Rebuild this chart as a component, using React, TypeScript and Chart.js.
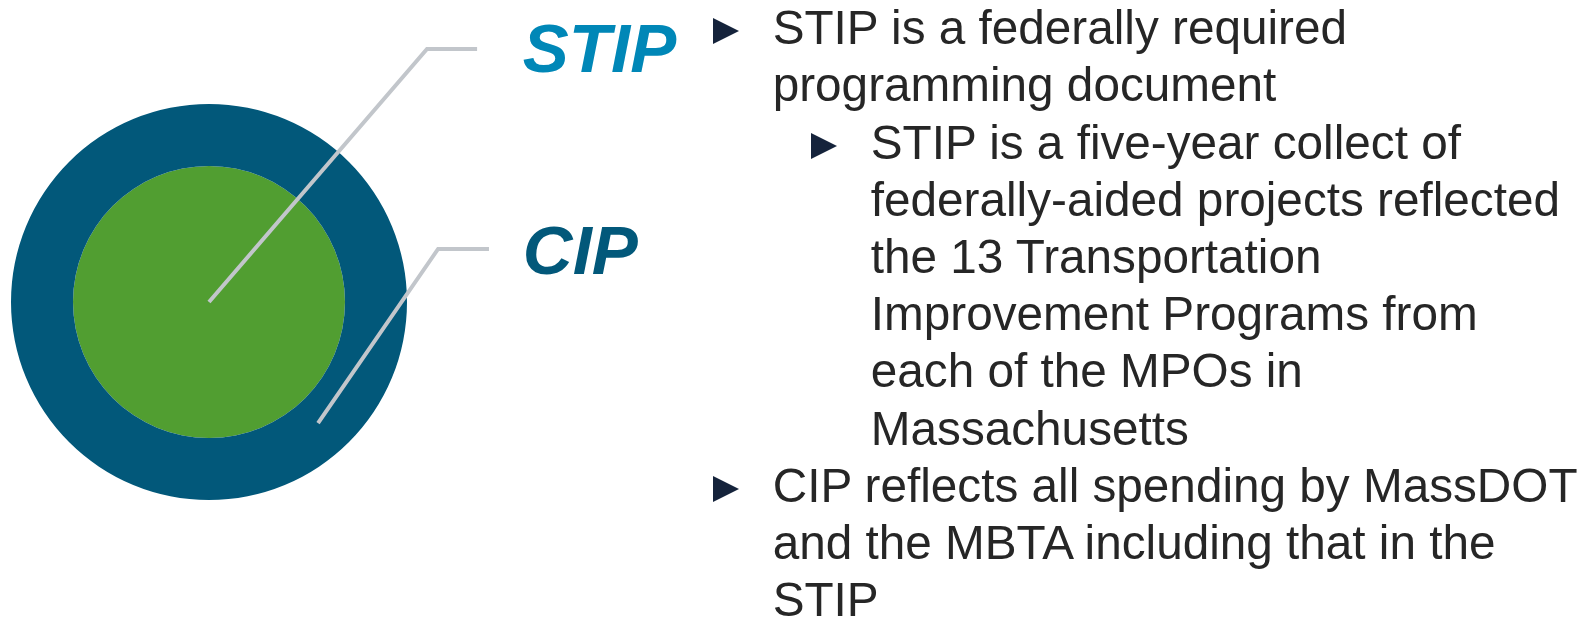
import React, { useEffect, useRef } from 'react';
import { Chart, registerables } from 'chart.js';

Chart.register(...registerables);

// ---- data ----
const ringLabels = ['CIP', 'STIP'];
// relative ring thickness: CIP outer ring, STIP core
const ringWeights = [62, 136];
const ringValues = [1, 1];

const bulletLines = [
  'STIP is a federally required',
  'programming document',
  'STIP is a five-year collect of',
  'federally-aided projects reflected',
  'the 13 Transportation',
  'Improvement Programs from',
  'each of the MPOs in',
  'Massachusetts',
  'CIP reflects all spending by MassDOT',
  'and the MBTA including that in the',
  'STIP',
];
const bulletLevels = [0, 0, 1, 1, 1, 1, 1, 1, 0, 0, 0];
const bulletMarks = [true, false, true, false, false, false, false, false, true, false, false];

// ---- styles ----
const ringColors = ['#02587A', '#519E31'];
const labelColors = ['#02587A', '#0087B7'];
const leaderColor = '#C2C6CB';
const textColor = '#262626';
const triColor = '#15233B';

// leader geometry in units of the outer radius (layout only)
const leaderGeom: Record<string, { startR: number; startAngle: number; elbow: [number, number]; endX: number; label: [number, number] }> = {
  CIP: { startR: 0.823, startAngle: 48, elbow: [1.157, -0.268], endX: 1.414, label: [1.585, -0.141] },
  STIP: { startR: 0, startAngle: 0, elbow: [1.101, -1.278], endX: 1.354, label: [1.585, -1.163] },
};

const FONT = '"Liberation Sans", Arial, Helvetica, sans-serif';

const leaderPlugin = {
  id: 'leaders',
  afterDatasetsDraw(chart: any) {
    const meta = chart.getDatasetMeta(0);
    const arc = meta.data[0];
    if (!arc) return;
    const cx = arc.x;
    const cy = arc.y;
    const R = arc.outerRadius;
    const ctx = chart.ctx;
    ctx.save();
    ringLabels.forEach((name, i) => {
      const g = leaderGeom[name];
      const a = (g.startAngle * Math.PI) / 180;
      const sx = cx + g.startR * R * Math.cos(a);
      const sy = cy + g.startR * R * Math.sin(a);
      const ex = cx + g.elbow[0] * R;
      const ey = cy + g.elbow[1] * R;
      ctx.beginPath();
      ctx.moveTo(sx, sy);
      ctx.lineTo(ex, ey);
      ctx.lineTo(cx + g.endX * R, ey);
      ctx.strokeStyle = leaderColor;
      ctx.lineWidth = 4;
      ctx.lineJoin = 'miter';
      ctx.lineCap = 'butt';
      ctx.stroke();
      ctx.font = `italic bold 69px ${FONT}`;
      ctx.fillStyle = labelColors[i];
      ctx.textBaseline = 'alphabetic';
      ctx.textAlign = 'left';
      ctx.fillText(name, cx + g.label[0] * R, cy + g.label[1] * R);
    });
    ctx.restore();
  },
};

export default function App() {
  const ref = useRef<HTMLCanvasElement | null>(null);

  useEffect(() => {
    document.body.style.margin = '0';
    const canvas = ref.current;
    if (!canvas) return;
    const chart = new Chart(canvas, {
      type: 'pie',
      data: {
        labels: ['share'],
        datasets: ringLabels.map((name, i) => ({
          label: name,
          data: [ringValues[i]],
          backgroundColor: ringColors[i],
          borderWidth: 0,
          weight: ringWeights[i],
        })),
      },
      options: {
        animation: false,
        responsive: false,
        devicePixelRatio: 1,
        events: [],
        layout: { padding: { left: 11, top: 104, right: 1189, bottom: 121 } },
        plugins: {
          legend: { display: false },
          tooltip: { enabled: false },
          title: { display: false },
        },
      } as any,
      plugins: [leaderPlugin],
    });
    return () => chart.destroy();
  }, []);

  const lineH = 57.2;
  const fontSize = 47.7;
  const baseOffset = (lineH - 1.117 * fontSize) / 2 + 0.905 * fontSize;
  const firstBaseline = 44.3;
  const textX = [772.7, 870.8];
  const triX = [713, 811];

  return (
    <div style={{ position: 'fixed', left: 0, top: 0, width: 1596, height: 621, background: '#fff', overflow: 'hidden' }}>
      <canvas ref={ref} width={1596} height={621} style={{ position: 'absolute', left: 0, top: 0, width: 1596, height: 621 }} />
      {bulletLines.map((t, i) => {
        const base = firstBaseline + i * lineH;
        const lvl = bulletLevels[i];
        return (
          <React.Fragment key={i}>
            {bulletMarks[i] && (
              <div
                style={{
                  position: 'absolute',
                  left: triX[lvl],
                  top: base - 26,
                  width: 0,
                  height: 0,
                  borderTop: '13px solid transparent',
                  borderBottom: '13px solid transparent',
                  borderLeft: `26px solid ${triColor}`,
                }}
              />
            )}
            <div
              style={{
                position: 'absolute',
                left: textX[lvl],
                top: base - baseOffset,
                fontFamily: FONT,
                fontSize,
                lineHeight: `${lineH}px`,
                color: textColor,
                whiteSpace: 'nowrap',
              }}
            >
              {t}
            </div>
          </React.Fragment>
        );
      })}
    </div>
  );
}
